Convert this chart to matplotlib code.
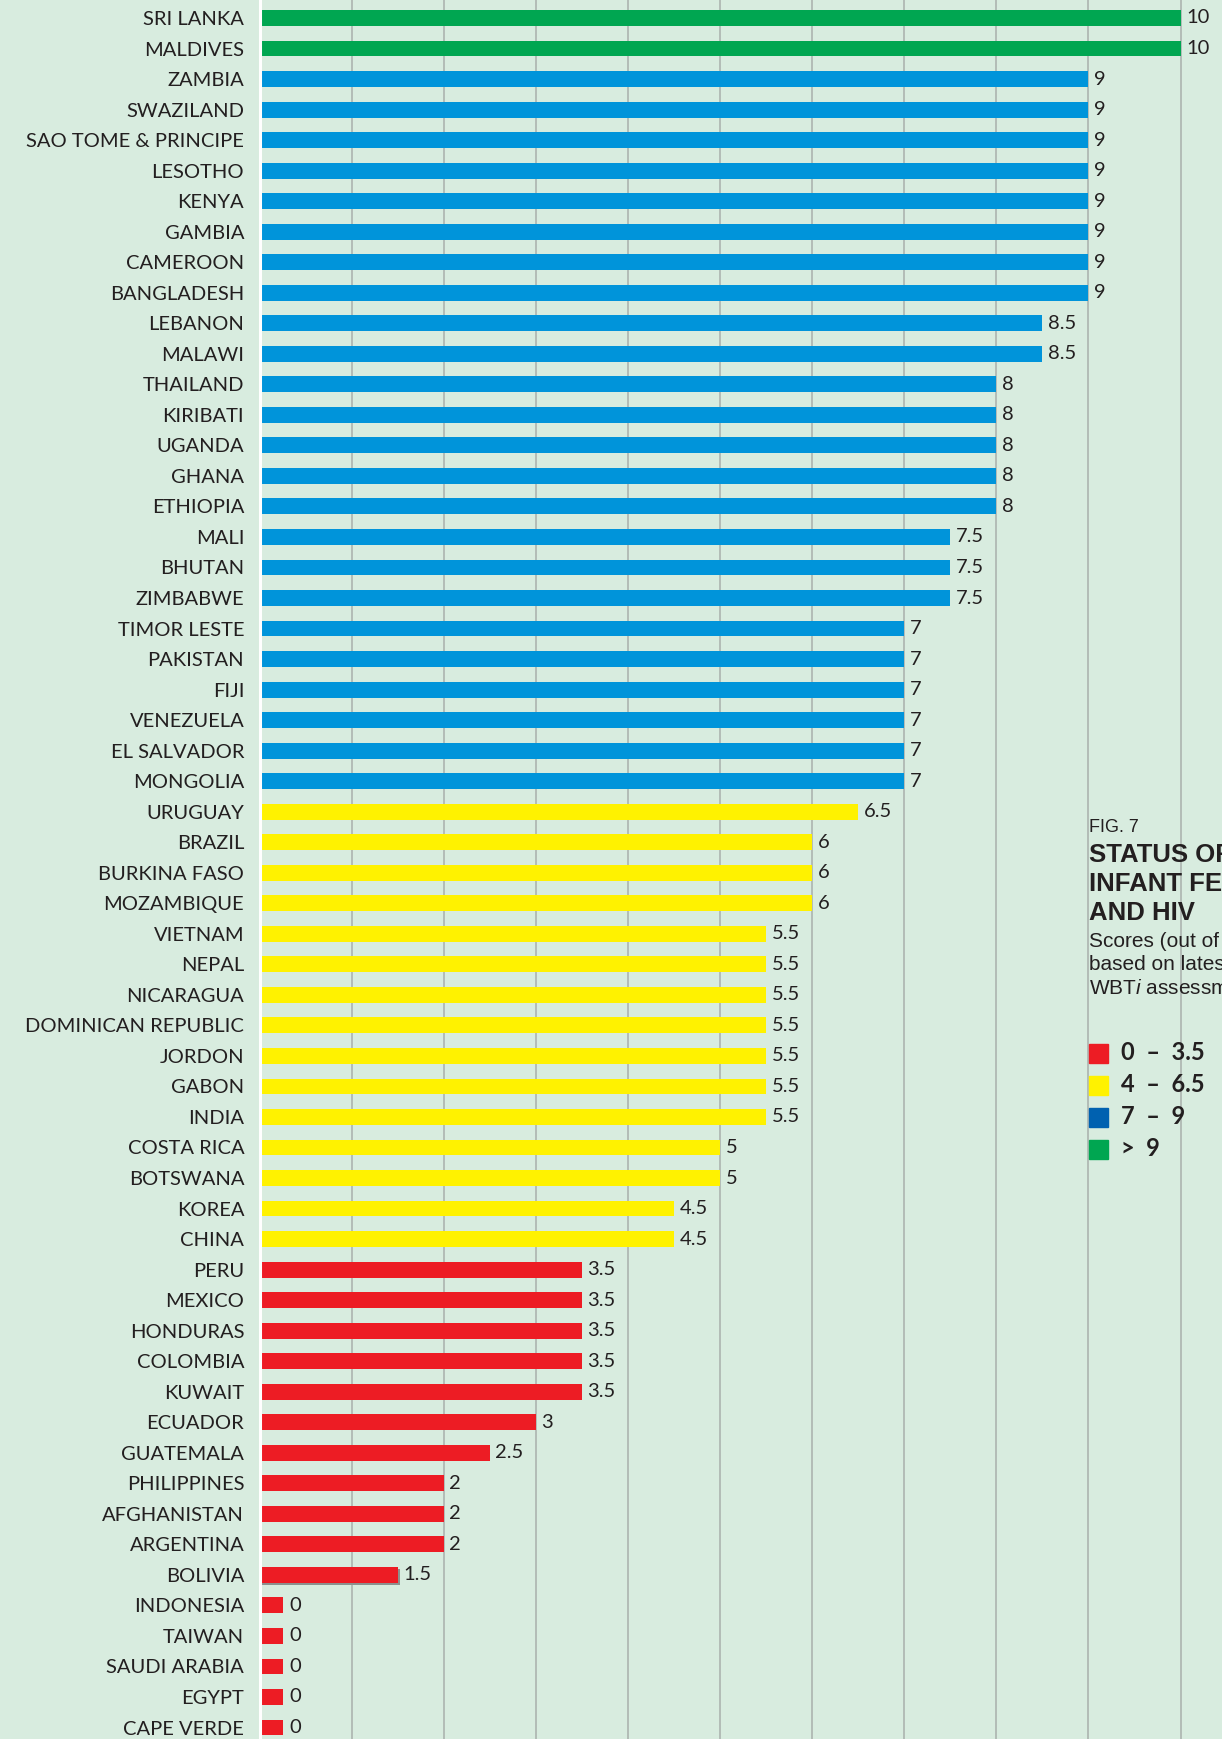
import matplotlib
matplotlib.use("Agg")
import numpy as np
import matplotlib.pyplot as plt
import matplotlib.patheffects as pe
from matplotlib.patches import Rectangle

# data, top to bottom
countries = [
    "SRI LANKA", "MALDIVES", "ZAMBIA", "SWAZILAND", "SAO TOME & PRINCIPE",
    "LESOTHO", "KENYA", "GAMBIA", "CAMEROON", "BANGLADESH",
    "LEBANON", "MALAWI", "THAILAND", "KIRIBATI", "UGANDA",
    "GHANA", "ETHIOPIA", "MALI", "BHUTAN", "ZIMBABWE",
    "TIMOR LESTE", "PAKISTAN", "FIJI", "VENEZUELA", "EL SALVADOR",
    "MONGOLIA", "URUGUAY", "BRAZIL", "BURKINA FASO", "MOZAMBIQUE",
    "VIETNAM", "NEPAL", "NICARAGUA", "DOMINICAN REPUBLIC", "JORDON",
    "GABON", "INDIA", "COSTA RICA", "BOTSWANA", "KOREA",
    "CHINA", "PERU", "MEXICO", "HONDURAS", "COLOMBIA",
    "KUWAIT", "ECUADOR", "GUATEMALA", "PHILIPPINES", "AFGHANISTAN",
    "ARGENTINA", "BOLIVIA", "INDONESIA", "TAIWAN", "SAUDI ARABIA",
    "EGYPT", "CAPE VERDE",
]
scores = [
    10, 10, 9, 9, 9,
    9, 9, 9, 9, 9,
    8.5, 8.5, 8, 8, 8,
    8, 8, 7.5, 7.5, 7.5,
    7, 7, 7, 7, 7,
    7, 6.5, 6, 6, 6,
    5.5, 5.5, 5.5, 5.5, 5.5,
    5.5, 5.5, 5, 5, 4.5,
    4.5, 3.5, 3.5, 3.5, 3.5,
    3.5, 3, 2.5, 2, 2,
    2, 1.5, 0, 0, 0,
    0, 0,
]
legend_labels = ["0  –  3.5", "4  –  6.5", "7  –  9", ">  9"]

BG = "#d8ecdf"
RED, YELLOW, BLUE, GREEN = "#ed1c24", "#fff200", "#0094da", "#00a651"
LEG_BLUE = "#0061b0"
TXT = "#231f20"
LABEL_FONT = ["Lato", "DejaVu Sans"]
TITLE_FONT = ["Liberation Sans", "DejaVu Sans"]

W, H = 1222, 1739
X0 = 259.5          # pixel of value 0
UNIT = 92.1         # pixels per score point
ROW = 30.53         # pixels per row
Y0 = 18.0           # centre of first row


def colour(v):
    if v > 9:
        return GREEN
    if v >= 7:
        return BLUE
    if v >= 4:
        return YELLOW
    return RED


fig = plt.figure(figsize=(W / 100, H / 100), dpi=100, facecolor=BG)
ax = fig.add_axes([X0 / W, 0, 1 - X0 / W, 1], facecolor=BG)

y = np.arange(len(countries))
vals = np.array(scores, dtype=float)
shown = np.maximum(vals, 0.26)   # zero scores drawn as a short stub
bars = ax.barh(y, shown, height=0.52, color=[colour(v) for v in vals], zorder=2)
ax.bar_label(bars, labels=[f"{v:g}" for v in vals], padding=4,
             fontsize=14.5, color=TXT, family=LABEL_FONT)

# the Bolivia bar carries a small grey drop shadow in the original
bars[countries.index("BOLIVIA")].set_path_effects(
    [pe.SimplePatchShadow(offset=(1.5, -1.5), shadow_rgbFace="#8c918e", alpha=1),
     pe.Normal()])

ax.set_xlim(0, (W - X0) / UNIT)
ax.set_ylim(len(countries) - 1 + (H - 1727.5) / ROW, -Y0 / ROW)

ax.set_xticks(range(1, 11))
ax.set_xticklabels([])
ax.grid(axis="x", color="#a9afab", lw=1.1, zorder=0)
ax.set_axisbelow(True)
ax.tick_params(axis="x", length=0)

ax.set_yticks(y)
ax.set_yticklabels(countries, fontsize=14.5, color=TXT, family=LABEL_FONT)
ax.tick_params(axis="y", length=0, pad=11)

for s in ["top", "right", "bottom"]:
    ax.spines[s].set_visible(False)
ax.spines["left"].set_color("white")
ax.spines["left"].set_linewidth(2.2)
ax.spines["left"].set_zorder(3)


# title block on the right
def ftext(px, py, s, **kw):
    fig.text(px / W, 1 - py / H, s, va="center", ha="left", color=TXT, **kw)


plt.rcParams["mathtext.fontset"] = "custom"
plt.rcParams["mathtext.it"] = "Liberation Sans:italic"
plt.rcParams["mathtext.rm"] = "Liberation Sans"

ftext(1089, 827, "FIG. 7", fontsize=13, family=TITLE_FONT)
for py, line in zip([855, 884, 913], ["STATUS OF", "INFANT FEEDING", "AND HIV"]):
    ftext(1089, py, line, fontsize=18.5, fontweight="bold", family=TITLE_FONT)
for py, line in zip([941, 965, 989], ["Scores (out of 10)", "based on latest",
                                      r"WBT$\it{i}$ assessments"]):
    ftext(1089, py, line, fontsize=15, family=TITLE_FONT)

for py, c, lab in zip([1053, 1085, 1117, 1149], [RED, YELLOW, LEG_BLUE, GREEN],
                      legend_labels):
    fig.patches.append(Rectangle((1089 / W, 1 - (py + 9.5) / H), 19 / W, 19 / H,
                                 transform=fig.transFigure, color=c, figure=fig))
    ftext(1121, py, lab, fontsize=17, fontweight="bold", family=LABEL_FONT)

fig.savefig("out.png", dpi=100, facecolor=BG)
